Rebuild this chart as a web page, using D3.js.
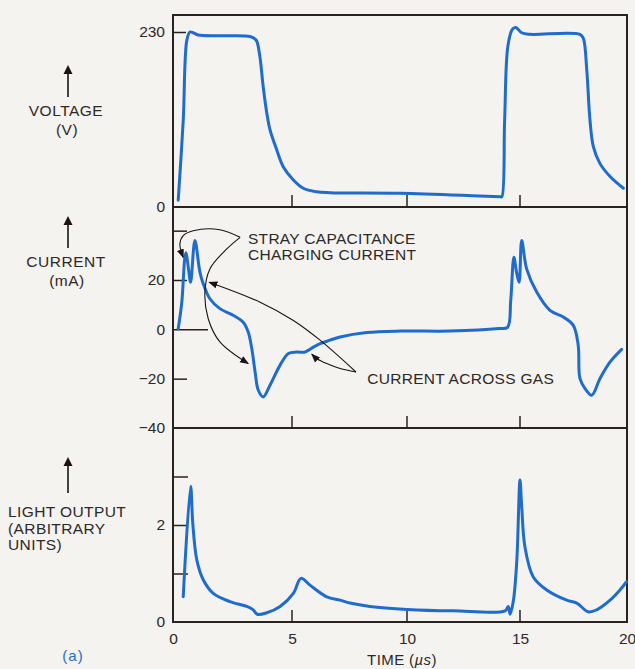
<!DOCTYPE html>
<html><head><meta charset="utf-8">
<script src="https://cdn.jsdelivr.net/npm/d3@7"></script>
<style>
html,body{margin:0;padding:0;background:#f4f3ef;}
svg{display:block;}
text{font-family:"Liberation Sans",Arial,sans-serif;fill:#2e2828;}
</style></head>
<body>
<svg id="c" width="635" height="669"></svg>
<script>
// ---- data (time in µs) ----
const voltageT = [0.22,0.43,0.58,0.71,0.85,1.06,1.97,3.24,3.49,3.63,3.79,3.94,4.08,4.36,4.63,5.06,5.49,6.07,6.65,9.70,13.2,14.14,14.2,14.32,14.46,14.66,14.81,15.08,15.47,17.8,17.96,18.12,18.27,18.43,18.74,19.21,19.83];
const voltageV = [9,114,219,230,229,226,225,224,219.5,202,158,123.5,101,75,53,35.5,24.6,20,18.8,18,14.5,13.5,13.5,114,210.7,233.5,236,229,227,227,221.7,180,114,79,57,40,24.6];

const currentT = [0.22,0.37,0.50,0.55,0.65,0.74,0.92,1.13,1.27,1.55,1.97,2.53,2.95,3.16,3.31,3.45,3.58,3.79,4.08,4.50,4.85,5.20,5.57,5.93,6.22,6.65,7.09,8.25,9.70,11.9,14.07,14.45,14.59,14.73,14.85,14.96,15.08,15.31,15.78,16.40,17.02,17.49,17.72,17.80,18.04,18.35,18.74,19.21,19.75];
const currentI = [0.3,11,29.2,31,24.6,19.1,36,23.2,18.5,12.4,8.4,5.7,2.9,-1.1,-7.8,-17.3,-24.6,-27.4,-22.6,-14.5,-9.8,-9.2,-9.2,-7.2,-5.8,-4.4,-3.1,-1.3,-0.7,-0.7,0.3,0.8,11.7,29.2,23,19.1,36,24.5,15.1,7.7,5,1.6,-6.5,-19.9,-24,-26.7,-19.9,-13.2,-8.1];

const lightT = [0.43,0.74,0.83,1.0,1.27,1.69,2.39,3.10,3.37,3.54,3.94,4.50,5.06,5.39,5.78,6.51,7.09,7.52,8.39,10.01,12.05,14.34,14.48,14.56,14.71,14.86,15.0,15.08,15.23,15.62,16.25,17.18,17.65,18.19,18.58,19.21,19.67,19.98];
const lightL = [0.52,2.80,2.04,1.28,0.87,0.59,0.42,0.32,0.25,0.16,0.19,0.32,0.59,0.90,0.76,0.52,0.45,0.39,0.32,0.26,0.23,0.23,0.32,0.16,0.45,1.28,2.93,2.38,1.55,0.93,0.66,0.45,0.39,0.21,0.25,0.45,0.66,0.83];

const xTickLabels = ["0","5","10","15","20"];
const xTickValues = [0,5,10,15,20];
const voltageTicks = [0,230];
const voltageTickLabels = ["0","230"];
const currentTicks = [40,20,0,-20,-40];
const currentTickLabels = ["","20","0","\u221220","\u221240"];
const lightTicks = [3,2,1,0];
const lightTickLabels = ["","2","","0"];

// annotation paths in data units (t µs, mA)
const strayArrowA = [[2.82,37.3],[1.97,40.4],[0.85,40],[0.43,38],[0.29,34.6],[0.43,29.2]];
const strayArrowB = [[2.82,37.3],[2.26,32.6],[1.55,24.5],[1.34,15.1],[1.48,4.3],[1.97,-5.1],[3.16,-13.9]];
const gasArrowA = [[7.78,-17.3],[6.22,-4.4],[5.06,3.6],[3.66,11],[1.52,19.1]];
const gasArrowB = [[7.78,-17.3],[7.09,-15.9],[6.51,-13.9],[6.07,-11.8],[5.86,-10.1]];

// ---- layout ----
const W=635,H=669;
const padL=173,padR=627,padT=15,sep1=207,sep2=428,padB=622;
const svg=d3.select("#c");
svg.append("rect").attr("width",W).attr("height",H).attr("fill","#f4f3ef");

const x=d3.scaleLinear().domain(xTickValues).range([173,292,407,520,627]);
const yV=d3.scaleLinear().domain([0,230]).range([sep1,32]);
const yI=d3.scaleLinear().domain([-40,20]).range([sep2,280]);
const yL=d3.scaleLinear().domain([0,2]).range([padB,525]);

const blue="#1f6ccc", ink="#2a2222", txt="#2e2828";

// frame
const g=svg.append("g");
g.append("rect").attr("x",padL).attr("y",padT).attr("width",padR-padL).attr("height",padB-padT)
 .attr("fill","none").attr("stroke",ink).attr("stroke-width",2);
[sep1,sep2].forEach(s=>g.append("line").attr("x1",padL).attr("x2",padR).attr("y1",s).attr("y2",s).attr("stroke",ink).attr("stroke-width",2));

// x ticks inside each panel (pointing up)
[sep1,sep2,padB].forEach(b=>{
  g.selectAll(null).data([5,10,15]).enter().append("line")
   .attr("x1",d=>x(d)).attr("x2",d=>x(d)).attr("y1",b).attr("y2",b-12)
   .attr("stroke",ink).attr("stroke-width",1.5);
});
// x labels
const xa=svg.append("g").attr("transform",`translate(0,${padB})`)
  .call(d3.axisBottom(x).tickValues(xTickValues).tickSize(0).tickPadding(11).tickFormat((d,i)=>xTickLabels[i]));
xa.select(".domain").remove();
xa.selectAll("text").style("font-size","15.5px").attr("fill",txt).style("font-family","Liberation Sans, Arial, sans-serif");

function yAxis(scale,vals,labels,tickLen){
  const a=svg.append("g").attr("transform",`translate(${padL},0)`)
   .call(d3.axisLeft(scale).tickValues(vals).tickSize(-tickLen).tickPadding(8).tickFormat((d,i)=>labels[i]));
  a.select(".domain").remove();
  a.selectAll("line").attr("stroke",ink).attr("stroke-width",1.5);
  a.selectAll("text").style("font-size","15.5px").attr("fill",txt).style("font-family","Liberation Sans, Arial, sans-serif");
  return a;
}
const av=yAxis(yV,voltageTicks,voltageTickLabels,13);
av.selectAll(".tick").filter(d=>d===0).select("line").remove();
const ai=yAxis(yI,currentTicks,currentTickLabels,14);
ai.selectAll(".tick").filter(d=>d===0).select("line").attr("x2",35);
ai.selectAll(".tick").filter(d=>d===-40).select("line").remove();
const al=yAxis(yL,lightTicks,lightTickLabels,15);
al.selectAll(".tick").filter(d=>d===0).select("line").remove();

// curves
function curve(ts,vs,ys){
  const pts=ts.map((t,i)=>[t,vs[i]]);
  svg.append("path").datum(pts)
   .attr("d",d3.line().x(d=>x(d[0])).y(d=>ys(d[1])).curve(d3.curveCatmullRom.alpha(0.5)))
   .attr("fill","none").attr("stroke",blue).attr("stroke-width",3)
   .attr("stroke-linejoin","round").attr("stroke-linecap","round");
}
curve(voltageT,voltageV,yV);
curve(currentT,currentI,yI);
curve(lightT,lightL,yL);

// annotations
const defs=svg.append("defs");
defs.append("marker").attr("id","ah").attr("viewBox","0 0 10 10").attr("refX",9).attr("refY",5)
 .attr("markerWidth",9).attr("markerHeight",9).attr("markerUnits","userSpaceOnUse").attr("orient","auto")
 .append("path").attr("d","M0,1 L10,5 L0,9 Z").attr("fill","#1a1414");
const annLine=d3.line().x(d=>x(d[0])).y(d=>yI(d[1])).curve(d3.curveCatmullRom.alpha(0.5));
[strayArrowA,strayArrowB,gasArrowA,gasArrowB].forEach(p=>{
  svg.append("path").attr("d",annLine(p)).attr("fill","none").attr("stroke","#1a1414")
   .attr("stroke-width",1.1).attr("marker-end","url(#ah)");
});
const annFont="15.5px";
svg.append("text").attr("x",x(3.15)).attr("y",yI(34.7)).style("font-size",annFont).style("letter-spacing","0.3px").text("STRAY CAPACITANCE");
svg.append("text").attr("x",x(3.15)).attr("y",yI(28.3)).style("font-size",annFont).style("letter-spacing","0.3px").text("CHARGING CURRENT");
svg.append("text").attr("x",x(8.27)).attr("y",yI(-22.2)).style("font-size",annFont).style("letter-spacing","0.3px").text("CURRENT ACROSS GAS");

// side labels with up-arrows
function upArrow(cx,y1,y2){
  svg.append("line").attr("x1",cx).attr("x2",cx).attr("y1",y1+6).attr("y2",y2).attr("stroke","#1a1414").attr("stroke-width",1.6);
  svg.append("path").attr("d",`M${cx},${y1} L${cx-4.5},${y1+9} L${cx+4.5},${y1+9} Z`).attr("fill","#1a1414");
}
upArrow(68,65,97);
svg.append("text").attr("x",66).attr("y",116).attr("text-anchor","middle").style("font-size","15.5px").style("letter-spacing","0.5px").text("VOLTAGE");
svg.append("text").attr("x",67).attr("y",135).attr("text-anchor","middle").style("font-size","15.5px").style("letter-spacing","0.5px").text("(V)");

upArrow(68,216,248);
svg.append("text").attr("x",66).attr("y",267).attr("text-anchor","middle").style("font-size","15.5px").style("letter-spacing","0.5px").text("CURRENT");
svg.append("text").attr("x",67).attr("y",286).attr("text-anchor","middle").style("font-size","15.5px").style("letter-spacing","0.5px").text("(mA)");

upArrow(68,457,493);
[["LIGHT OUTPUT",517],["(ARBITRARY",533.5],["UNITS)",550]].forEach(([t,y])=>
  svg.append("text").attr("x",8).attr("y",y).style("font-size","15.5px").style("letter-spacing","0.4px").text(t));

svg.append("text").attr("x",73).attr("y",661).attr("text-anchor","middle").style("font-size","15px").style("fill",blue).style("letter-spacing","1px").text("(a)");

const tt=svg.append("text").attr("x",402).attr("y",665).attr("text-anchor","middle").style("font-size","15px").style("letter-spacing","0.4px");
tt.append("tspan").text("TIME (");
tt.append("tspan").style("font-style","italic").text("\u00b5s");
tt.append("tspan").text(")");
</script>
</body></html>
